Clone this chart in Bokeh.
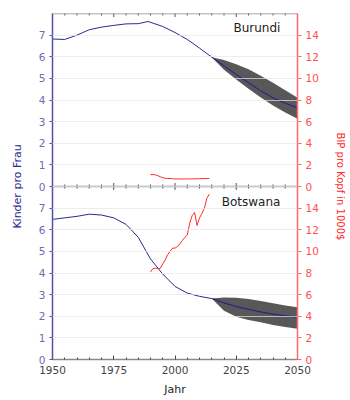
from bokeh.plotting import figure
from bokeh.models import Range1d, LinearAxis, FixedTicker, Span, Label
from bokeh.embed import file_html
from bokeh.resources import INLINE

# ---------------- data ----------------
# Burundi: children per woman (history), projection (median, band), GDP per capita (1000$)
bdi_years = [1950, 1955, 1960, 1965, 1970, 1975, 1980, 1985, 1989, 1995, 2000, 2005, 2010, 2015]
bdi_tfr = [6.82, 6.80, 7.00, 7.25, 7.37, 7.45, 7.52, 7.53, 7.63, 7.40, 7.12, 6.80, 6.40, 5.98]
proj_years = [2015, 2020, 2025, 2030, 2035, 2040, 2045, 2050]
bdi_med = [5.98, 5.58, 5.18, 4.80, 4.42, 4.10, 3.85, 3.64]
bdi_hi = [5.98, 5.85, 5.65, 5.42, 5.12, 4.80, 4.45, 4.10]
bdi_lo = [5.98, 5.40, 4.95, 4.52, 4.12, 3.75, 3.42, 3.13]
gdp_years = list(range(1990, 2015))
bdi_gdp = [1.10, 1.10, 1.08, 1.00, 0.90, 0.82, 0.76, 0.74, 0.74, 0.72, 0.70, 0.70, 0.70,
           0.69, 0.70, 0.70, 0.70, 0.71, 0.71, 0.72, 0.72, 0.73, 0.73, 0.74, 0.74]

# Botswana
bwa_years = [1950, 1955, 1960, 1965, 1970, 1975, 1980, 1985, 1990, 1995, 2000, 2005, 2010, 2015]
bwa_tfr = [6.48, 6.55, 6.62, 6.72, 6.68, 6.55, 6.25, 5.65, 4.65, 3.95, 3.38, 3.07, 2.92, 2.82]
bwa_med = [2.82, 2.62, 2.45, 2.32, 2.20, 2.10, 2.02, 1.96]
bwa_hi = [2.82, 2.87, 2.85, 2.80, 2.70, 2.60, 2.50, 2.42]
bwa_lo = [2.82, 2.25, 1.98, 1.83, 1.72, 1.60, 1.50, 1.42]
bwa_gdp = [8.10, 8.40, 8.45, 8.40, 8.45, 8.85, 9.20, 9.70, 10.00, 10.30, 10.30, 10.45, 10.70,
           11.00, 11.30, 11.50, 12.60, 13.30, 13.60, 12.40, 13.10, 13.50, 14.00, 14.90, 15.30]

x_major = [1950, 1975, 2000, 2025, 2050]
x_minor = [1955, 1960, 1965, 1970, 1980, 1985, 1990, 1995, 2005, 2010, 2015, 2020, 2030, 2035, 2040, 2045]
left_ticks = list(range(0, 16))
right_ticks = list(range(0, 32, 2))

BLUE = "#2a2a8c"
BLUE_T = "#6c6cae"
RED = "#ff2a2a"
RED_T = "#ff5050"
GREY = "#8a8a8a"
FONT = "DejaVu Sans"

p = figure(width=350, height=400, x_range=Range1d(1950, 2050), y_range=Range1d(0, 16),
           output_backend="svg", toolbar_location=None,
           min_border_left=52, min_border_right=53, min_border_top=13, min_border_bottom=41)
p.outline_line_color = None
p.background_fill_color = "white"
p.border_fill_color = "white"
p.extra_y_ranges = {"top": Range1d(-8, 8), "rbot": Range1d(0, 32), "rtop": Range1d(-16, 16)}

# bands
p.varea(x=proj_years, y1=bdi_lo, y2=bdi_hi, y_range_name="top", color="#585858")
p.varea(x=proj_years, y1=bwa_lo, y2=bwa_hi, color="#585858")

# fertility lines
p.line(bdi_years, bdi_tfr, y_range_name="top", color=BLUE, line_width=1)
p.line(proj_years, bdi_med, y_range_name="top", color="#1a1a99", line_width=1)
p.line(bwa_years, bwa_tfr, color=BLUE, line_width=1)
p.line(proj_years, bwa_med, color="#1a1a99", line_width=1)

# GDP lines
p.line(gdp_years, bdi_gdp, y_range_name="rtop", color=RED, line_width=1)
p.line(gdp_years, bwa_gdp, y_range_name="rbot", color=RED, line_width=1)

# grid
p.xgrid.visible = False
p.ygrid.ticker = FixedTicker(ticks=left_ticks)
p.ygrid.grid_line_color = "#e6e6e6"
p.ygrid.grid_line_alpha = 0.7
p.ygrid.level = "overlay"

# middle divider and top border, with year ticks
for loc in (8, 16):
    p.add_layout(Span(location=loc, dimension="width", line_color=GREY, line_width=1.5))
    p.scatter(x_major, [loc] * len(x_major), marker="dash", angle=1.5708, size=7,
              line_color="#555555", line_width=1)
    p.scatter(x_minor, [loc] * len(x_minor), marker="dash", angle=1.5708, size=4,
              line_color="#555555", line_width=1)

# bottom x axis
xa = p.xaxis[0]
xa.ticker = FixedTicker(ticks=x_major, minor_ticks=x_minor)
xa.axis_label = "Jahr"
xa.axis_label_text_font = FONT
xa.axis_label_text_font_size = "11px"
xa.axis_label_text_font_style = "normal"
xa.axis_label_text_color = "#222222"
xa.axis_label_standoff = 6
xa.major_label_text_font = FONT
xa.major_label_text_font_size = "10.5px"
xa.major_label_text_color = "#444444"
xa.axis_line_color = GREY
xa.axis_line_width = 1.5
xa.major_tick_line_color = "#444444"
xa.minor_tick_line_color = "#444444"
xa.major_tick_in = 4
xa.major_tick_out = 0
xa.minor_tick_in = 2
xa.minor_tick_out = 0
xa.major_label_standoff = 6

# left axis
ya = p.yaxis[0]
ya.ticker = FixedTicker(ticks=left_ticks)
ya.major_label_overrides = {t: str(t % 8) for t in left_ticks}
ya.axis_label = "Kinder pro Frau"
ya.axis_label_text_font = FONT
ya.axis_label_text_font_size = "11px"
ya.axis_label_text_font_style = "normal"
ya.axis_label_text_color = BLUE
ya.axis_label_standoff = 12
ya.major_label_text_font = FONT
ya.major_label_text_font_size = "10.5px"
ya.major_label_text_color = BLUE_T
ya.axis_line_color = "#5050a8"
ya.axis_line_width = 1.5
ya.major_tick_line_color = "#5050a8"
ya.major_tick_in = 0
ya.major_tick_out = 3
ya.minor_tick_line_color = None
ya.major_label_standoff = 4

# right axis
ra = LinearAxis(y_range_name="rbot", ticker=FixedTicker(ticks=right_ticks))
ra.major_label_overrides = {t: str(t % 16) for t in right_ticks}
ra.axis_label = "BIP pro Kopf in 1000$"
ra.axis_label_text_font = FONT
ra.axis_label_text_font_size = "10px"
ra.axis_label_text_font_style = "normal"
ra.axis_label_text_color = RED
ra.axis_label_standoff = 13
ra.major_label_text_font = FONT
ra.major_label_text_font_size = "10.5px"
ra.major_label_text_color = RED_T
ra.axis_line_color = "#ff6a6a"
ra.axis_line_width = 1.5
ra.major_tick_line_color = "#ff6a6a"
ra.major_tick_in = 0
ra.major_tick_out = 4
ra.minor_tick_line_color = None
ra.major_label_standoff = 4
p.add_layout(ra, "right")

# panel labels
p.add_layout(Label(x=2043, y=15.33, text="Burundi", text_align="right", text_baseline="middle",
                   text_font=FONT, text_font_size="12px", text_color="#222222"))
p.add_layout(Label(x=2043, y=7.27, text="Botswana", text_align="right", text_baseline="middle",
                   text_font=FONT, text_font_size="12px", text_color="#222222"))

open("out.html", "w").write(file_html(p, INLINE))
